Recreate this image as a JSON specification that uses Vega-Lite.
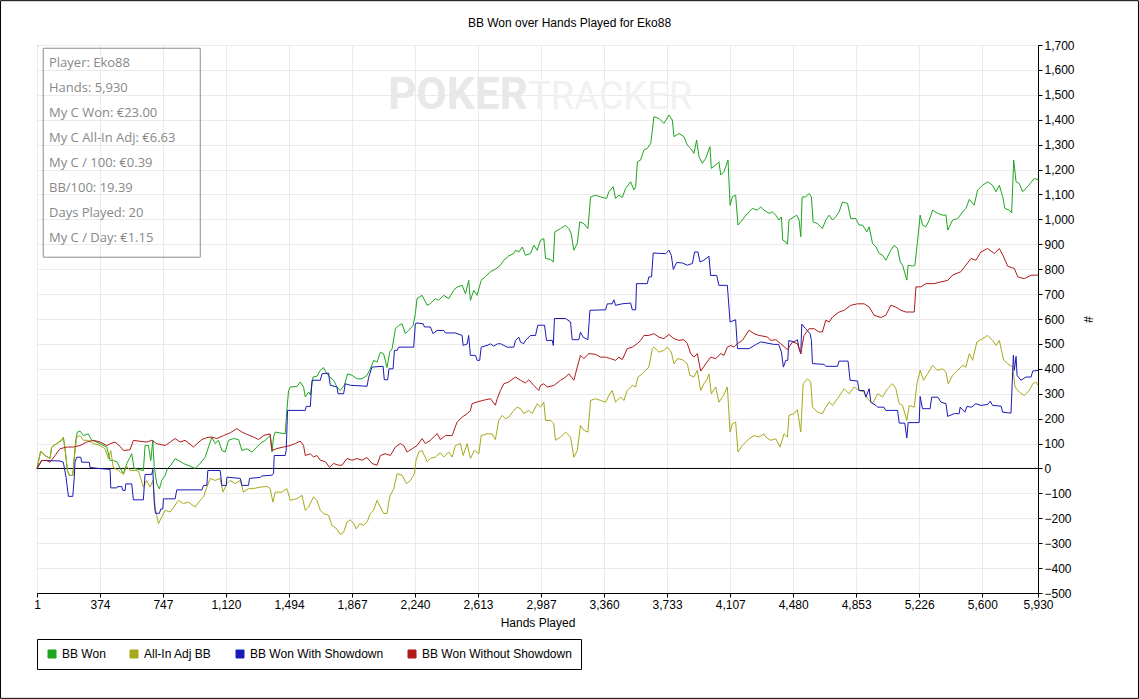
{
  "$schema": "https://vega.github.io/schema/vega-lite/v6.json",
  "width": 1001,
  "height": 548,
  "autosize": "none",
  "padding": {"left": 37, "top": 45, "right": 101, "bottom": 106},
  "background": "white",
  "title": {
    "text": "BB Won over Hands Played for Eko88",
    "font": "Liberation Sans",
    "fontSize": 12,
    "fontWeight": "normal",
    "color": "black",
    "anchor": "middle",
    "dx": 32,
    "offset": -30
  },
  "config": {
    "view": {"stroke": "black", "strokeWidth": 1},
    "axis": {
      "labelFont": "Liberation Sans",
      "labelFontSize": 12,
      "labelColor": "black",
      "titleFont": "Liberation Sans",
      "titleFontSize": 12,
      "titleFontWeight": "normal",
      "titleColor": "black",
      "domainColor": "black",
      "tickColor": "black",
      "tickSize": 4,
      "labelPadding": 2,
      "gridColor": "#ebebeb",
      "gridWidth": 1
    },
    "legend": {
      "orient": "none",
      "legendX": 0,
      "legendY": 594,
      "direction": "horizontal",
      "columns": 4,
      "title": null,
      "strokeColor": "black",
      "fillColor": "white",
      "padding": 9,
      "columnPadding": 22,
      "symbolType": "square",
      "symbolSize": 64,
      "symbolStrokeWidth": 1,
      "labelFont": "Liberation Sans",
      "labelFontSize": 12,
      "labelColor": "black",
      "labelOffset": 4
    }
  },
  "datasets": {
    "won": [
      {"hand":1,"bb":0},{"hand":23,"bb":70},{"hand":48,"bb":52},{"hand":78,"bb":40},{"hand":88,"bb":86},{"hand":118,"bb":100},{"hand":147,"bb":113},{"hand":157,"bb":125},{"hand":167,"bb":80},{"hand":181,"bb":-8},{"hand":193,"bb":-28},{"hand":213,"bb":-28},{"hand":220,"bb":32},{"hand":232,"bb":120},{"hand":240,"bb":146},{"hand":256,"bb":150},{"hand":276,"bb":132},{"hand":305,"bb":139},{"hand":325,"bb":113},{"hand":355,"bb":106},{"hand":385,"bb":96},{"hand":414,"bb":86},{"hand":434,"bb":32},{"hand":453,"bb":32},{"hand":477,"bb":25},{"hand":493,"bb":0},{"hand":513,"bb":-20},{"hand":533,"bb":20},{"hand":552,"bb":45},{"hand":562,"bb":59},{"hand":576,"bb":0},{"hand":602,"bb":-4},{"hand":631,"bb":-8},{"hand":641,"bb":92},{"hand":661,"bb":92},{"hand":675,"bb":32},{"hand":687,"bb":113},{"hand":695,"bb":8},{"hand":711,"bb":-62},{"hand":726,"bb":-82},{"hand":740,"bb":-48},{"hand":760,"bb":-28},{"hand":774,"bb":0},{"hand":794,"bb":13},{"hand":819,"bb":39},{"hand":839,"bb":32},{"hand":868,"bb":20},{"hand":908,"bb":9},{"hand":938,"bb":0},{"hand":967,"bb":20},{"hand":997,"bb":45},{"hand":1017,"bb":86},{"hand":1037,"bb":126},{"hand":1056,"bb":100},{"hand":1076,"bb":113},{"hand":1096,"bb":72},{"hand":1116,"bb":66},{"hand":1135,"bb":113},{"hand":1165,"bb":120},{"hand":1195,"bb":116},{"hand":1215,"bb":72},{"hand":1244,"bb":79},{"hand":1274,"bb":66},{"hand":1323,"bb":100},{"hand":1353,"bb":113},{"hand":1382,"bb":132},{"hand":1393,"bb":66},{"hand":1402,"bb":126},{"hand":1412,"bb":146},{"hand":1471,"bb":139},{"hand":1481,"bb":233},{"hand":1491,"bb":313},{"hand":1501,"bb":327},{"hand":1541,"bb":329},{"hand":1560,"bb":347},{"hand":1580,"bb":327},{"hand":1590,"bb":287},{"hand":1610,"bb":307},{"hand":1620,"bb":295},{"hand":1636,"bb":367},{"hand":1659,"bb":370},{"hand":1679,"bb":394},{"hand":1698,"bb":405},{"hand":1714,"bb":385},{"hand":1734,"bb":367},{"hand":1758,"bb":354},{"hand":1778,"bb":327},{"hand":1797,"bb":313},{"hand":1821,"bb":334},{"hand":1841,"bb":380},{"hand":1867,"bb":374},{"hand":1897,"bb":360},{"hand":1926,"bb":360},{"hand":1956,"bb":374},{"hand":1975,"bb":400},{"hand":1995,"bb":434},{"hand":2015,"bb":427},{"hand":2035,"bb":467},{"hand":2054,"bb":460},{"hand":2074,"bb":405},{"hand":2090,"bb":467},{"hand":2104,"bb":480},{"hand":2124,"bb":561},{"hand":2143,"bb":574},{"hand":2163,"bb":581},{"hand":2183,"bb":541},{"hand":2202,"bb":554},{"hand":2229,"bb":574},{"hand":2242,"bb":622},{"hand":2252,"bb":682},{"hand":2282,"bb":695},{"hand":2312,"bb":655},{"hand":2331,"bb":662},{"hand":2361,"bb":682},{"hand":2380,"bb":675},{"hand":2410,"bb":695},{"hand":2440,"bb":682},{"hand":2469,"bb":715},{"hand":2489,"bb":728},{"hand":2519,"bb":735},{"hand":2539,"bb":701},{"hand":2558,"bb":755},{"hand":2568,"bb":675},{"hand":2588,"bb":715},{"hand":2608,"bb":695},{"hand":2632,"bb":755},{"hand":2657,"bb":770},{"hand":2687,"bb":790},{"hand":2716,"bb":800},{"hand":2746,"bb":816},{"hand":2766,"bb":836},{"hand":2795,"bb":853},{"hand":2825,"bb":863},{"hand":2835,"bb":876},{"hand":2855,"bb":869},{"hand":2875,"bb":889},{"hand":2894,"bb":856},{"hand":2924,"bb":863},{"hand":2944,"bb":896},{"hand":2964,"bb":876},{"hand":2983,"bb":916},{"hand":3003,"bb":923},{"hand":3013,"bb":843},{"hand":3043,"bb":839},{"hand":3059,"bb":829},{"hand":3068,"bb":950},{"hand":3102,"bb":963},{"hand":3132,"bb":976},{"hand":3151,"bb":963},{"hand":3165,"bb":943},{"hand":3181,"bb":876},{"hand":3201,"bb":903},{"hand":3216,"bb":990},{"hand":3240,"bb":983},{"hand":3264,"bb":963},{"hand":3280,"bb":1090},{"hand":3309,"bb":1097},{"hand":3339,"bb":1090},{"hand":3375,"bb":1084},{"hand":3388,"bb":1111},{"hand":3414,"bb":1131},{"hand":3428,"bb":1084},{"hand":3448,"bb":1097},{"hand":3468,"bb":1088},{"hand":3487,"bb":1124},{"hand":3517,"bb":1151},{"hand":3537,"bb":1118},{"hand":3547,"bb":1131},{"hand":3557,"bb":1231},{"hand":3576,"bb":1238},{"hand":3596,"bb":1278},{"hand":3616,"bb":1285},{"hand":3636,"bb":1305},{"hand":3646,"bb":1358},{"hand":3655,"bb":1412},{"hand":3685,"bb":1405},{"hand":3714,"bb":1385},{"hand":3744,"bb":1419},{"hand":3764,"bb":1399},{"hand":3774,"bb":1332},{"hand":3803,"bb":1345},{"hand":3833,"bb":1332},{"hand":3853,"bb":1298},{"hand":3873,"bb":1285},{"hand":3892,"bb":1265},{"hand":3908,"bb":1318},{"hand":3922,"bb":1251},{"hand":3942,"bb":1225},{"hand":3962,"bb":1245},{"hand":3987,"bb":1292},{"hand":3995,"bb":1205},{"hand":4021,"bb":1218},{"hand":4040,"bb":1231},{"hand":4051,"bb":1178},{"hand":4070,"bb":1191},{"hand":4094,"bb":1238},{"hand":4106,"bb":1057},{"hand":4120,"bb":1091},{"hand":4139,"bb":1097},{"hand":4153,"bb":977},{"hand":4169,"bb":990},{"hand":4209,"bb":1023},{"hand":4238,"bb":1044},{"hand":4268,"bb":1037},{"hand":4288,"bb":1050},{"hand":4307,"bb":1037},{"hand":4337,"bb":1024},{"hand":4357,"bb":1030},{"hand":4377,"bb":1017},{"hand":4396,"bb":997},{"hand":4410,"bb":1010},{"hand":4418,"bb":916},{"hand":4436,"bb":910},{"hand":4446,"bb":900},{"hand":4455,"bb":997},{"hand":4485,"bb":1010},{"hand":4501,"bb":1017},{"hand":4515,"bb":997},{"hand":4525,"bb":930},{"hand":4533,"bb":1090},{"hand":4554,"bb":1090},{"hand":4574,"bb":1104},{"hand":4588,"bb":1090},{"hand":4598,"bb":990},{"hand":4624,"bb":983},{"hand":4653,"bb":963},{"hand":4673,"bb":997},{"hand":4693,"bb":1017},{"hand":4713,"bb":997},{"hand":4732,"bb":1010},{"hand":4752,"bb":1030},{"hand":4772,"bb":1070},{"hand":4802,"bb":1064},{"hand":4821,"bb":1003},{"hand":4851,"bb":1003},{"hand":4870,"bb":977},{"hand":4891,"bb":977},{"hand":4916,"bb":950},{"hand":4930,"bb":970},{"hand":4950,"bb":903},{"hand":4970,"bb":890},{"hand":4989,"bb":863},{"hand":5009,"bb":856},{"hand":5029,"bb":836},{"hand":5058,"bb":876},{"hand":5078,"bb":896},{"hand":5098,"bb":883},{"hand":5114,"bb":829},{"hand":5128,"bb":816},{"hand":5153,"bb":756},{"hand":5161,"bb":816},{"hand":5187,"bb":812},{"hand":5201,"bb":816},{"hand":5217,"bb":916},{"hand":5232,"bb":1017},{"hand":5246,"bb":977},{"hand":5266,"bb":970},{"hand":5286,"bb":997},{"hand":5306,"bb":1037},{"hand":5335,"bb":1024},{"hand":5365,"bb":1017},{"hand":5385,"bb":1017},{"hand":5395,"bb":957},{"hand":5424,"bb":997},{"hand":5454,"bb":1003},{"hand":5484,"bb":1030},{"hand":5503,"bb":1044},{"hand":5523,"bb":1080},{"hand":5552,"bb":1057},{"hand":5572,"bb":1117},{"hand":5602,"bb":1137},{"hand":5632,"bb":1151},{"hand":5661,"bb":1137},{"hand":5681,"bb":1111},{"hand":5701,"bb":1137},{"hand":5721,"bb":1091},{"hand":5734,"bb":1044},{"hand":5760,"bb":1037},{"hand":5774,"bb":1026},{"hand":5786,"bb":1238},{"hand":5800,"bb":1151},{"hand":5819,"bb":1144},{"hand":5839,"bb":1111},{"hand":5859,"bb":1124},{"hand":5884,"bb":1144},{"hand":5908,"bb":1164},{"hand":5930,"bb":1160}
    ],
    "allin": [
      {"hand":1,"bb":0},{"hand":23,"bb":70},{"hand":48,"bb":52},{"hand":78,"bb":40},{"hand":88,"bb":86},{"hand":118,"bb":100},{"hand":147,"bb":113},{"hand":157,"bb":125},{"hand":167,"bb":80},{"hand":181,"bb":-8},{"hand":193,"bb":-28},{"hand":213,"bb":-28},{"hand":220,"bb":32},{"hand":236,"bb":126},{"hand":256,"bb":132},{"hand":276,"bb":113},{"hand":305,"bb":113},{"hand":335,"bb":100},{"hand":375,"bb":92},{"hand":404,"bb":79},{"hand":424,"bb":39},{"hand":438,"bb":72},{"hand":453,"bb":4},{"hand":483,"bb":-8},{"hand":513,"bb":-24},{"hand":533,"bb":8},{"hand":552,"bb":-8},{"hand":576,"bb":-8},{"hand":602,"bb":-10},{"hand":631,"bb":-75},{"hand":651,"bb":-48},{"hand":671,"bb":-75},{"hand":687,"bb":-48},{"hand":701,"bb":-155},{"hand":720,"bb":-222},{"hand":740,"bb":-195},{"hand":760,"bb":-168},{"hand":790,"bb":-175},{"hand":819,"bb":-148},{"hand":839,"bb":-128},{"hand":868,"bb":-141},{"hand":898,"bb":-135},{"hand":938,"bb":-155},{"hand":967,"bb":-128},{"hand":987,"bb":-115},{"hand":1007,"bb":-75},{"hand":1027,"bb":-40},{"hand":1056,"bb":-48},{"hand":1086,"bb":-40},{"hand":1102,"bb":-95},{"hand":1126,"bb":-61},{"hand":1145,"bb":-48},{"hand":1175,"bb":-61},{"hand":1205,"bb":-48},{"hand":1224,"bb":-95},{"hand":1254,"bb":-81},{"hand":1283,"bb":-81},{"hand":1323,"bb":-75},{"hand":1363,"bb":-72},{"hand":1382,"bb":-81},{"hand":1398,"bb":-135},{"hand":1412,"bb":-95},{"hand":1452,"bb":-95},{"hand":1481,"bb":-81},{"hand":1501,"bb":-128},{"hand":1541,"bb":-121},{"hand":1570,"bb":-108},{"hand":1590,"bb":-168},{"hand":1610,"bb":-155},{"hand":1639,"bb":-114},{"hand":1659,"bb":-128},{"hand":1679,"bb":-168},{"hand":1698,"bb":-181},{"hand":1728,"bb":-188},{"hand":1748,"bb":-229},{"hand":1778,"bb":-243},{"hand":1797,"bb":-265},{"hand":1817,"bb":-256},{"hand":1837,"bb":-215},{"hand":1857,"bb":-206},{"hand":1876,"bb":-221},{"hand":1892,"bb":-243},{"hand":1912,"bb":-221},{"hand":1936,"bb":-229},{"hand":1959,"bb":-211},{"hand":1975,"bb":-181},{"hand":1995,"bb":-168},{"hand":2015,"bb":-128},{"hand":2035,"bb":-155},{"hand":2054,"bb":-181},{"hand":2074,"bb":-181},{"hand":2090,"bb":-114},{"hand":2114,"bb":-81},{"hand":2134,"bb":-21},{"hand":2163,"bb":-27},{"hand":2189,"bb":-61},{"hand":2213,"bb":-48},{"hand":2236,"bb":-21},{"hand":2246,"bb":32},{"hand":2262,"bb":66},{"hand":2282,"bb":72},{"hand":2312,"bb":27},{"hand":2331,"bb":40},{"hand":2361,"bb":46},{"hand":2390,"bb":63},{"hand":2410,"bb":46},{"hand":2440,"bb":66},{"hand":2460,"bb":46},{"hand":2479,"bb":92},{"hand":2509,"bb":100},{"hand":2525,"bb":52},{"hand":2549,"bb":100},{"hand":2568,"bb":40},{"hand":2592,"bb":73},{"hand":2618,"bb":59},{"hand":2632,"bb":132},{"hand":2667,"bb":139},{"hand":2697,"bb":139},{"hand":2716,"bb":116},{"hand":2736,"bb":193},{"hand":2756,"bb":213},{"hand":2776,"bb":200},{"hand":2795,"bb":206},{"hand":2825,"bb":233},{"hand":2845,"bb":246},{"hand":2865,"bb":240},{"hand":2884,"bb":220},{"hand":2914,"bb":233},{"hand":2934,"bb":220},{"hand":2964,"bb":260},{"hand":2983,"bb":246},{"hand":3003,"bb":266},{"hand":3013,"bb":193},{"hand":3043,"bb":193},{"hand":3062,"bb":180},{"hand":3072,"bb":113},{"hand":3102,"bb":126},{"hand":3132,"bb":146},{"hand":3161,"bb":126},{"hand":3181,"bb":45},{"hand":3201,"bb":72},{"hand":3220,"bb":173},{"hand":3240,"bb":153},{"hand":3264,"bb":146},{"hand":3280,"bb":273},{"hand":3309,"bb":280},{"hand":3339,"bb":273},{"hand":3369,"bb":266},{"hand":3388,"bb":293},{"hand":3408,"bb":313},{"hand":3428,"bb":266},{"hand":3458,"bb":287},{"hand":3477,"bb":273},{"hand":3497,"bb":313},{"hand":3527,"bb":333},{"hand":3547,"bb":327},{"hand":3560,"bb":367},{"hand":3586,"bb":380},{"hand":3606,"bb":394},{"hand":3625,"bb":407},{"hand":3646,"bb":481},{"hand":3655,"bb":487},{"hand":3685,"bb":467},{"hand":3714,"bb":474},{"hand":3734,"bb":487},{"hand":3758,"bb":467},{"hand":3774,"bb":420},{"hand":3794,"bb":441},{"hand":3823,"bb":437},{"hand":3853,"bb":420},{"hand":3868,"bb":374},{"hand":3892,"bb":367},{"hand":3912,"bb":394},{"hand":3932,"bb":313},{"hand":3951,"bb":340},{"hand":3972,"bb":360},{"hand":3981,"bb":380},{"hand":3995,"bb":300},{"hand":4021,"bb":327},{"hand":4040,"bb":266},{"hand":4067,"bb":293},{"hand":4090,"bb":327},{"hand":4106,"bb":146},{"hand":4120,"bb":180},{"hand":4139,"bb":186},{"hand":4153,"bb":66},{"hand":4179,"bb":92},{"hand":4218,"bb":119},{"hand":4248,"bb":132},{"hand":4278,"bb":126},{"hand":4307,"bb":139},{"hand":4317,"bb":126},{"hand":4347,"bb":113},{"hand":4377,"bb":119},{"hand":4402,"bb":86},{"hand":4426,"bb":139},{"hand":4446,"bb":126},{"hand":4455,"bb":213},{"hand":4485,"bb":220},{"hand":4505,"bb":236},{"hand":4525,"bb":146},{"hand":4539,"bb":340},{"hand":4564,"bb":360},{"hand":4584,"bb":347},{"hand":4594,"bb":247},{"hand":4624,"bb":226},{"hand":4653,"bb":220},{"hand":4673,"bb":246},{"hand":4693,"bb":267},{"hand":4713,"bb":253},{"hand":4742,"bb":280},{"hand":4782,"bb":320},{"hand":4811,"bb":300},{"hand":4841,"bb":327},{"hand":4870,"bb":313},{"hand":4900,"bb":307},{"hand":4920,"bb":280},{"hand":4950,"bb":260},{"hand":4980,"bb":300},{"hand":5009,"bb":287},{"hand":5039,"bb":320},{"hand":5069,"bb":340},{"hand":5088,"bb":320},{"hand":5108,"bb":260},{"hand":5128,"bb":253},{"hand":5153,"bb":193},{"hand":5167,"bb":253},{"hand":5197,"bb":246},{"hand":5213,"bb":340},{"hand":5232,"bb":394},{"hand":5252,"bb":354},{"hand":5276,"bb":380},{"hand":5306,"bb":414},{"hand":5335,"bb":394},{"hand":5365,"bb":400},{"hand":5385,"bb":387},{"hand":5398,"bb":340},{"hand":5424,"bb":374},{"hand":5454,"bb":394},{"hand":5484,"bb":414},{"hand":5503,"bb":407},{"hand":5523,"bb":461},{"hand":5543,"bb":434},{"hand":5568,"bb":508},{"hand":5602,"bb":521},{"hand":5632,"bb":534},{"hand":5661,"bb":514},{"hand":5681,"bb":494},{"hand":5701,"bb":514},{"hand":5727,"bb":434},{"hand":5750,"bb":421},{"hand":5780,"bb":407},{"hand":5794,"bb":327},{"hand":5819,"bb":307},{"hand":5849,"bb":293},{"hand":5878,"bb":313},{"hand":5899,"bb":340},{"hand":5918,"bb":347},{"hand":5930,"bb":334}
    ],
    "showdown": [
      {"hand":1,"bb":0},{"hand":29,"bb":32},{"hand":137,"bb":30},{"hand":157,"bb":25},{"hand":173,"bb":-35},{"hand":187,"bb":-112},{"hand":213,"bb":-112},{"hand":222,"bb":-35},{"hand":226,"bb":25},{"hand":236,"bb":45},{"hand":260,"bb":45},{"hand":266,"bb":25},{"hand":311,"bb":25},{"hand":315,"bb":4},{"hand":364,"bb":0},{"hand":434,"bb":-4},{"hand":438,"bb":-78},{"hand":474,"bb":-78},{"hand":477,"bb":-73},{"hand":503,"bb":-73},{"hand":509,"bb":-88},{"hand":523,"bb":-88},{"hand":527,"bb":-62},{"hand":562,"bb":-62},{"hand":572,"bb":-126},{"hand":631,"bb":-126},{"hand":641,"bb":-24},{"hand":681,"bb":-24},{"hand":687,"bb":-4},{"hand":695,"bb":-130},{"hand":702,"bb":-180},{"hand":726,"bb":-180},{"hand":734,"bb":-163},{"hand":746,"bb":-163},{"hand":750,"bb":-122},{"hand":819,"bb":-122},{"hand":829,"bb":-86},{"hand":978,"bb":-86},{"hand":987,"bb":-68},{"hand":1007,"bb":-68},{"hand":1013,"bb":-8},{"hand":1086,"bb":-8},{"hand":1096,"bb":-68},{"hand":1122,"bb":-68},{"hand":1126,"bb":-35},{"hand":1205,"bb":-40},{"hand":1215,"bb":-68},{"hand":1254,"bb":-68},{"hand":1260,"bb":-40},{"hand":1323,"bb":-36},{"hand":1333,"bb":-30},{"hand":1393,"bb":-27},{"hand":1402,"bb":-21},{"hand":1406,"bb":52},{"hand":1471,"bb":52},{"hand":1477,"bb":72},{"hand":1485,"bb":233},{"hand":1590,"bb":233},{"hand":1596,"bb":249},{"hand":1620,"bb":249},{"hand":1630,"bb":354},{"hand":1679,"bb":354},{"hand":1689,"bb":380},{"hand":1728,"bb":383},{"hand":1738,"bb":334},{"hand":1778,"bb":327},{"hand":1784,"bb":300},{"hand":1817,"bb":300},{"hand":1827,"bb":340},{"hand":1857,"bb":334},{"hand":1956,"bb":330},{"hand":1965,"bb":364},{"hand":1985,"bb":407},{"hand":2051,"bb":410},{"hand":2058,"bb":356},{"hand":2078,"bb":356},{"hand":2086,"bb":400},{"hand":2110,"bb":400},{"hand":2118,"bb":474},{"hand":2134,"bb":474},{"hand":2143,"bb":487},{"hand":2232,"bb":487},{"hand":2242,"bb":581},{"hand":2252,"bb":584},{"hand":2288,"bb":581},{"hand":2296,"bb":568},{"hand":2331,"bb":568},{"hand":2347,"bb":541},{"hand":2371,"bb":554},{"hand":2410,"bb":554},{"hand":2420,"bb":544},{"hand":2479,"bb":544},{"hand":2519,"bb":534},{"hand":2525,"bb":494},{"hand":2549,"bb":500},{"hand":2558,"bb":534},{"hand":2568,"bb":454},{"hand":2598,"bb":454},{"hand":2608,"bb":434},{"hand":2623,"bb":434},{"hand":2632,"bb":487},{"hand":2667,"bb":494},{"hand":2687,"bb":500},{"hand":2706,"bb":491},{"hand":2727,"bb":500},{"hand":2746,"bb":501},{"hand":2786,"bb":487},{"hand":2825,"bb":487},{"hand":2835,"bb":514},{"hand":2855,"bb":527},{"hand":2865,"bb":507},{"hand":2884,"bb":501},{"hand":2894,"bb":514},{"hand":2924,"bb":534},{"hand":2954,"bb":534},{"hand":2967,"bb":575},{"hand":3007,"bb":575},{"hand":3019,"bb":514},{"hand":3053,"bb":514},{"hand":3059,"bb":494},{"hand":3066,"bb":602},{"hand":3132,"bb":602},{"hand":3161,"bb":588},{"hand":3171,"bb":517},{"hand":3210,"bb":517},{"hand":3220,"bb":547},{"hand":3236,"bb":527},{"hand":3264,"bb":517},{"hand":3276,"bb":635},{"hand":3369,"bb":637},{"hand":3379,"bb":661},{"hand":3408,"bb":661},{"hand":3418,"bb":677},{"hand":3428,"bb":655},{"hand":3468,"bb":661},{"hand":3517,"bb":664},{"hand":3527,"bb":637},{"hand":3547,"bb":637},{"hand":3552,"bb":742},{"hand":3616,"bb":742},{"hand":3625,"bb":769},{"hand":3641,"bb":769},{"hand":3651,"bb":865},{"hand":3724,"bb":862},{"hand":3744,"bb":876},{"hand":3758,"bb":856},{"hand":3770,"bb":799},{"hand":3790,"bb":827},{"hand":3823,"bb":825},{"hand":3853,"bb":816},{"hand":3883,"bb":823},{"hand":3896,"bb":869},{"hand":3916,"bb":869},{"hand":3928,"bb":829},{"hand":3951,"bb":836},{"hand":3981,"bb":852},{"hand":3991,"bb":775},{"hand":4027,"bb":775},{"hand":4040,"bb":735},{"hand":4090,"bb":735},{"hand":4106,"bb":588},{"hand":4139,"bb":597},{"hand":4150,"bb":481},{"hand":4218,"bb":481},{"hand":4258,"bb":497},{"hand":4288,"bb":508},{"hand":4367,"bb":498},{"hand":4394,"bb":498},{"hand":4410,"bb":468},{"hand":4422,"bb":407},{"hand":4436,"bb":434},{"hand":4448,"bb":434},{"hand":4454,"bb":514},{"hand":4485,"bb":508},{"hand":4505,"bb":517},{"hand":4515,"bb":481},{"hand":4525,"bb":461},{"hand":4531,"bb":579},{"hand":4554,"bb":561},{"hand":4580,"bb":541},{"hand":4588,"bb":514},{"hand":4594,"bb":421},{"hand":4663,"bb":418},{"hand":4673,"bb":410},{"hand":4742,"bb":410},{"hand":4752,"bb":431},{"hand":4805,"bb":431},{"hand":4817,"bb":354},{"hand":4861,"bb":351},{"hand":4870,"bb":313},{"hand":4900,"bb":313},{"hand":4910,"bb":286},{"hand":4930,"bb":320},{"hand":4940,"bb":266},{"hand":4970,"bb":253},{"hand":4980,"bb":246},{"hand":5017,"bb":246},{"hand":5029,"bb":233},{"hand":5098,"bb":233},{"hand":5108,"bb":182},{"hand":5141,"bb":182},{"hand":5153,"bb":122},{"hand":5161,"bb":184},{"hand":5226,"bb":184},{"hand":5232,"bb":289},{"hand":5246,"bb":240},{"hand":5291,"bb":240},{"hand":5300,"bb":286},{"hand":5337,"bb":286},{"hand":5355,"bb":266},{"hand":5385,"bb":260},{"hand":5395,"bb":209},{"hand":5434,"bb":220},{"hand":5463,"bb":220},{"hand":5469,"bb":246},{"hand":5497,"bb":226},{"hand":5509,"bb":249},{"hand":5537,"bb":246},{"hand":5562,"bb":260},{"hand":5592,"bb":253},{"hand":5632,"bb":257},{"hand":5647,"bb":270},{"hand":5661,"bb":253},{"hand":5711,"bb":250},{"hand":5721,"bb":226},{"hand":5770,"bb":222},{"hand":5784,"bb":454},{"hand":5790,"bb":394},{"hand":5800,"bb":450},{"hand":5806,"bb":374},{"hand":5829,"bb":354},{"hand":5859,"bb":367},{"hand":5889,"bb":367},{"hand":5899,"bb":391},{"hand":5930,"bb":394}
    ],
    "noshowdown": [
      {"hand":1,"bb":0},{"hand":29,"bb":32},{"hand":59,"bb":32},{"hand":78,"bb":25},{"hand":108,"bb":52},{"hand":137,"bb":79},{"hand":177,"bb":86},{"hand":216,"bb":86},{"hand":256,"bb":92},{"hand":296,"bb":106},{"hand":335,"bb":113},{"hand":375,"bb":106},{"hand":414,"bb":92},{"hand":434,"bb":99},{"hand":463,"bb":106},{"hand":493,"bb":89},{"hand":513,"bb":72},{"hand":552,"bb":75},{"hand":572,"bb":113},{"hand":612,"bb":109},{"hand":651,"bb":106},{"hand":681,"bb":113},{"hand":711,"bb":99},{"hand":760,"bb":92},{"hand":790,"bb":106},{"hand":819,"bb":120},{"hand":849,"bb":106},{"hand":878,"bb":113},{"hand":928,"bb":86},{"hand":948,"bb":99},{"hand":978,"bb":116},{"hand":1007,"bb":124},{"hand":1037,"bb":126},{"hand":1066,"bb":120},{"hand":1106,"bb":132},{"hand":1145,"bb":143},{"hand":1185,"bb":160},{"hand":1215,"bb":146},{"hand":1244,"bb":137},{"hand":1283,"bb":126},{"hand":1313,"bb":116},{"hand":1343,"bb":132},{"hand":1382,"bb":139},{"hand":1393,"bb":72},{"hand":1422,"bb":80},{"hand":1461,"bb":86},{"hand":1501,"bb":92},{"hand":1531,"bb":100},{"hand":1560,"bb":110},{"hand":1580,"bb":92},{"hand":1590,"bb":52},{"hand":1620,"bb":59},{"hand":1639,"bb":46},{"hand":1659,"bb":52},{"hand":1679,"bb":33},{"hand":1709,"bb":27},{"hand":1734,"bb":4},{"hand":1758,"bb":20},{"hand":1787,"bb":13},{"hand":1808,"bb":13},{"hand":1837,"bb":40},{"hand":1867,"bb":33},{"hand":1897,"bb":40},{"hand":1926,"bb":33},{"hand":1956,"bb":44},{"hand":1985,"bb":20},{"hand":2015,"bb":13},{"hand":2035,"bb":52},{"hand":2064,"bb":59},{"hand":2094,"bb":52},{"hand":2124,"bb":86},{"hand":2153,"bb":100},{"hand":2173,"bb":92},{"hand":2193,"bb":66},{"hand":2223,"bb":79},{"hand":2252,"bb":92},{"hand":2282,"bb":120},{"hand":2301,"bb":100},{"hand":2331,"bb":113},{"hand":2371,"bb":140},{"hand":2390,"bb":116},{"hand":2420,"bb":132},{"hand":2460,"bb":132},{"hand":2489,"bb":186},{"hand":2519,"bb":206},{"hand":2549,"bb":220},{"hand":2568,"bb":233},{"hand":2578,"bb":260},{"hand":2608,"bb":267},{"hand":2647,"bb":274},{"hand":2687,"bb":280},{"hand":2716,"bb":254},{"hand":2727,"bb":280},{"hand":2746,"bb":313},{"hand":2766,"bb":340},{"hand":2795,"bb":347},{"hand":2835,"bb":367},{"hand":2865,"bb":354},{"hand":2894,"bb":343},{"hand":2914,"bb":356},{"hand":2944,"bb":333},{"hand":2973,"bb":313},{"hand":2983,"bb":333},{"hand":3003,"bb":340},{"hand":3023,"bb":327},{"hand":3062,"bb":333},{"hand":3102,"bb":354},{"hand":3132,"bb":367},{"hand":3151,"bb":380},{"hand":3181,"bb":354},{"hand":3201,"bb":407},{"hand":3220,"bb":454},{"hand":3240,"bb":441},{"hand":3270,"bb":461},{"hand":3309,"bb":458},{"hand":3339,"bb":447},{"hand":3369,"bb":447},{"hand":3398,"bb":441},{"hand":3428,"bb":434},{"hand":3448,"bb":447},{"hand":3468,"bb":437},{"hand":3497,"bb":481},{"hand":3527,"bb":487},{"hand":3557,"bb":501},{"hand":3576,"bb":514},{"hand":3596,"bb":534},{"hand":3625,"bb":534},{"hand":3655,"bb":541},{"hand":3685,"bb":527},{"hand":3714,"bb":521},{"hand":3744,"bb":538},{"hand":3774,"bb":521},{"hand":3803,"bb":514},{"hand":3833,"bb":517},{"hand":3853,"bb":501},{"hand":3873,"bb":461},{"hand":3892,"bb":447},{"hand":3912,"bb":461},{"hand":3932,"bb":391},{"hand":3962,"bb":420},{"hand":3991,"bb":447},{"hand":4021,"bb":441},{"hand":4051,"bb":461},{"hand":4070,"bb":454},{"hand":4090,"bb":487},{"hand":4110,"bb":494},{"hand":4129,"bb":487},{"hand":4150,"bb":501},{"hand":4179,"bb":514},{"hand":4218,"bb":555},{"hand":4248,"bb":541},{"hand":4278,"bb":534},{"hand":4327,"bb":528},{"hand":4347,"bb":514},{"hand":4377,"bb":517},{"hand":4406,"bb":501},{"hand":4446,"bb":477},{"hand":4476,"bb":508},{"hand":4505,"bb":501},{"hand":4525,"bb":461},{"hand":4544,"bb":534},{"hand":4574,"bb":561},{"hand":4604,"bb":561},{"hand":4633,"bb":548},{"hand":4653,"bb":548},{"hand":4673,"bb":595},{"hand":4693,"bb":588},{"hand":4713,"bb":608},{"hand":4752,"bb":628},{"hand":4782,"bb":635},{"hand":4821,"bb":655},{"hand":4861,"bb":661},{"hand":4900,"bb":661},{"hand":4930,"bb":648},{"hand":4959,"bb":615},{"hand":4999,"bb":606},{"hand":5029,"bb":615},{"hand":5058,"bb":655},{"hand":5088,"bb":648},{"hand":5118,"bb":635},{"hand":5147,"bb":628},{"hand":5197,"bb":628},{"hand":5207,"bb":729},{"hand":5236,"bb":729},{"hand":5266,"bb":742},{"hand":5315,"bb":742},{"hand":5355,"bb":749},{"hand":5395,"bb":755},{"hand":5424,"bb":776},{"hand":5473,"bb":790},{"hand":5503,"bb":816},{"hand":5533,"bb":843},{"hand":5562,"bb":836},{"hand":5592,"bb":869},{"hand":5632,"bb":883},{"hand":5671,"bb":863},{"hand":5701,"bb":883},{"hand":5727,"bb":849},{"hand":5750,"bb":812},{"hand":5790,"bb":803},{"hand":5810,"bb":769},{"hand":5849,"bb":762},{"hand":5889,"bb":776},{"hand":5930,"bb":776}
    ]
  },
  "encoding": {
    "x": {
      "type": "quantitative",
      "scale": {"domain": [1, 5930], "nice": false, "zero": false},
      "axis": {
        "title": "Hands Played",
        "values": [1, 374, 747, 1120, 1494, 1867, 2240, 2613, 2987, 3360, 3733, 4107, 4480, 4853, 5226, 5600, 5930],
        "format": ",d",
        "grid": true,
        "labelFlush": false,
        "labelOverlap": false,
        "titlePadding": 7
      }
    },
    "y": {
      "type": "quantitative",
      "scale": {"domain": [-500, 1700], "nice": false, "zero": false},
      "axis": {
        "orient": "right",
        "title": "#",
        "values": [-500, -400, -300, -200, -100, 0, 100, 200, 300, 400, 500, 600, 700, 800, 900, 1000, 1100, 1200, 1300, 1400, 1500, 1600, 1700],
        "format": ",d",
        "grid": true,
        "labelFlush": false,
        "labelOverlap": false,
        "titlePadding": 6
      }
    }
  },
  "layer": [
    {
      "data": {"values": [{}]},
      "mark": {"type": "rect", "fill": null, "stroke": "black", "strokeWidth": 1},
      "encoding": {
        "x": {"datum": -215},
        "x2": {"datum": 6525},
        "y": {"datum": 1878},
        "y2": {"datum": -923}
      }
    },
    {
      "data": {"values": [{}]},
      "mark": {"type": "rect", "fill": null, "stroke": "#8c8c8c", "strokeWidth": 1},
      "encoding": {
        "x": {"datum": 38},
        "x2": {"datum": 968},
        "y": {"datum": 1687},
        "y2": {"datum": 848}
      }
    },
    {
      "data": {"values": [{}]},
      "mark": {"type": "text", "text": "POKER", "font": "Roboto", "fontSize": 44, "fontWeight": "bold", "color": "#e8e8e8", "align": "left", "baseline": "alphabetic"},
      "encoding": {
        "x": {"datum": 2080},
        "y": {"datum": 1443}
      }
    },
    {
      "data": {"values": [{}]},
      "mark": {"type": "text", "text": "TRACKER", "font": "Roboto", "fontSize": 38, "fontWeight": "normal", "color": "#f1f1f1", "align": "left", "baseline": "alphabetic"},
      "encoding": {
        "x": {"datum": 2909},
        "y": {"datum": 1443}
      }
    },
    {
      "data": {"values": [{}]},
      "mark": {"type": "rule", "color": "black", "strokeWidth": 1},
      "encoding": {
        "y": {"datum": 0}
      }
    },
    {
      "data": {"name": "won"},
      "mark": {"type": "line", "strokeWidth": 1},
      "encoding": {
        "x": {"field": "hand"},
        "y": {"field": "bb"},
        "color": {
          "datum": "BB Won",
          "type": "nominal",
          "scale": {
            "domain": ["BB Won", "All-In Adj BB", "BB Won With Showdown", "BB Won Without Showdown"],
            "range": ["#1ea51e", "#a8a81a", "#1a1ab8", "#b01a1a"]
          },
          "legend": {
            "encode": {
              "symbols": {
                "update": {
                  "fill": {"scale": "color", "field": "value"},
                  "stroke": {"value": "#222222"},
                  "strokeWidth": {"value": 1}
                }
              }
            }
          }
        }
      }
    },
    {
      "data": {"name": "allin"},
      "mark": {"type": "line", "strokeWidth": 1},
      "encoding": {
        "x": {"field": "hand"},
        "y": {"field": "bb"},
        "color": {"datum": "All-In Adj BB", "type": "nominal"}
      }
    },
    {
      "data": {"name": "showdown"},
      "mark": {"type": "line", "strokeWidth": 1},
      "encoding": {
        "x": {"field": "hand"},
        "y": {"field": "bb"},
        "color": {"datum": "BB Won With Showdown", "type": "nominal"}
      }
    },
    {
      "data": {"name": "noshowdown"},
      "mark": {"type": "line", "strokeWidth": 1},
      "encoding": {
        "x": {"field": "hand"},
        "y": {"field": "bb"},
        "color": {"datum": "BB Won Without Showdown", "type": "nominal"}
      }
    },
    {
      "data": {"values": [{}]},
      "mark": {
        "type": "text",
        "text": ["Player: Eko88", "Hands: 5,930", "My C Won: €23.00", "My C All-In Adj: €6.63", "My C / 100: €0.39", "BB/100: 19.39", "Days Played: 20", "My C / Day: €1.15"],
        "font": "Open Sans",
        "fontSize": 13,
        "color": "#888888",
        "align": "left",
        "baseline": "middle",
        "lineHeight": 25
      },
      "encoding": {
        "x": {"datum": 72},
        "y": {"datum": 1627}
      }
    }
  ]
}
